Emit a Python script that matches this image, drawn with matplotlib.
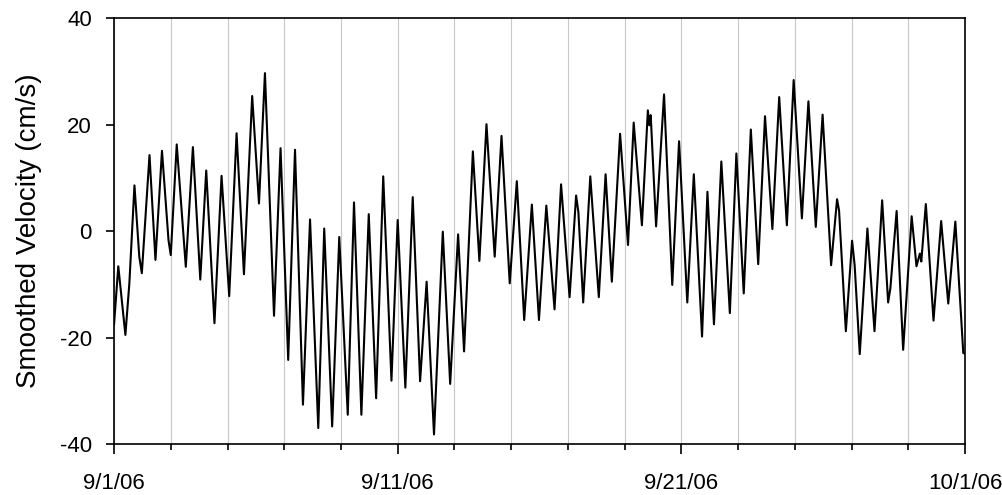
import numpy as np
import pandas as pd
import matplotlib
matplotlib.use("Agg")
import matplotlib.pyplot as plt
import matplotlib.dates as mdates
from matplotlib.ticker import FuncFormatter

# Data: day offsets from 9/1/06 and velocity (cm/s)
start_date = "2006-09-01"
days = [
    0.00, 0.15, 0.40, 0.54, 0.72, 0.89, 0.98, 1.25, 1.46, 1.69, 1.92, 2.00,
    2.21, 2.53, 2.78, 3.04, 3.25, 3.54, 3.79, 4.06, 4.32, 4.58, 4.87,
    5.11, 5.32, 5.64, 5.87, 6.14, 6.38, 6.66, 6.91, 7.20, 7.41, 7.69, 7.94,
    8.24, 8.46, 8.72, 8.98, 9.24, 9.49, 9.78, 10.00, 10.27,
    10.53, 10.79, 11.02, 11.28, 11.59, 11.85, 12.13, 12.34, 12.65, 12.88,
    13.13, 13.42, 13.66, 13.95, 14.20, 14.46, 14.73, 14.98, 15.24, 15.53,
    15.76, 16.06, 16.29, 16.37, 16.54, 16.79, 17.09, 17.33, 17.55, 17.84,
    18.12, 18.32, 18.61, 18.82, 18.87, 18.92, 19.11, 19.39, 19.68, 19.92,
    20.21, 20.44, 20.73,
    20.92, 21.15, 21.41, 21.71, 21.94, 22.20, 22.45, 22.71, 22.95, 23.21,
    23.45, 23.72, 23.96, 24.25, 24.48, 24.74, 24.98, 25.28, 25.49, 25.56,
    25.80,
    26.02, 26.11, 26.29, 26.56, 26.81, 27.08, 27.29, 27.37, 27.59, 27.82,
    28.12, 28.29, 28.41, 28.46, 28.62, 28.89, 29.16, 29.41, 29.66, 29.94,
    30.00,
]
velocity = [
    -17.5, -6.6, -19.5, -9.8, 8.6, -4.8, -7.9, 14.3, -5.4, 15.1, -1.7, -4.5,
    16.3, -6.7, 15.8, -9.1, 11.4, -17.3, 10.4, -12.2, 18.4, -8.1, 25.4,
    5.2, 29.7, -15.9, 15.6, -24.2, 15.3, -32.6, 2.2, -37.0, 0.5, -36.7, -1.1,
    -34.5, 5.4, -34.5, 3.2, -31.4, 10.3, -28.1, 2.1, -29.4,
    6.4, -28.2, -9.5, -38.2, -0.1, -28.7, -0.6, -22.6, 15.0, -5.6,
    20.1, -4.8, 17.9, -9.8, 9.4, -16.7, 5.0, -16.7, 4.8, -14.7,
    8.8, -12.4, 6.7, 3.6, -13.4, 10.3, -12.4, 10.7, -9.5, 18.3,
    -2.6, 20.4, 1.1, 22.7, 19.9, 21.8, 0.9, 25.7, -10.1, 16.9,
    -13.4, 10.7, -19.8,
    7.4, -17.5, 13.1, -15.4, 14.6, -11.7, 19.1, -6.2, 21.6, 0.4,
    25.2, 1.1, 28.4, 2.4, 24.4, 0.8, 21.9, -6.4, 6.0, 3.9,
    -18.8,
    -1.8, -6.4, -23.1, 0.5, -18.8, 5.8, -13.4, -10.7, 3.8, -22.3,
    2.8, -6.6, -4.2, -5.7, 5.1, -16.8, 1.9, -13.6, 1.8, -22.9,
    -23.0,
]
y_ticks = [-40, -20, 0, 20, 40]

times = pd.Timestamp(start_date) + pd.to_timedelta(days, unit="D")

plt.rcParams['font.family'] = ['Liberation Sans', 'DejaVu Sans']
plt.rcParams['axes.unicode_minus'] = False

fig = plt.figure(figsize=(10.03, 4.95), dpi=100)
ax = fig.add_axes([0.1137, 0.103, 0.8484, 0.860])

ax.plot(times, velocity, color="black", lw=1.5, solid_joinstyle="round", zorder=3)

ax.set_xlim(pd.Timestamp("2006-09-01"), pd.Timestamp("2006-10-01"))
ax.set_ylim(-40, 40)
ax.set_yticks(y_ticks)

ax.xaxis.set_major_locator(mdates.DayLocator(bymonthday=[1, 11, 21]))
ax.xaxis.set_minor_locator(mdates.DayLocator(bymonthday=list(range(1, 32, 2))))


def fmt_date(x, pos):
    d = mdates.num2date(x)
    return f"{d.month}/{d.day}/{d.strftime('%y')}"


ax.xaxis.set_major_formatter(FuncFormatter(fmt_date))
ax.grid(axis="x", which="both", color="#c8c8c8", lw=0.8, zorder=0)

ax.tick_params(axis="x", which="major", direction="out", length=7, width=1.2,
               labelsize=16, pad=14)
ax.tick_params(axis="x", which="minor", direction="out", length=4, width=1.2)
ax.tick_params(axis="y", direction="out", length=6, width=1.2, labelsize=16, pad=10)
for s in ax.spines.values():
    s.set_linewidth(1.2)

ax.set_ylabel("Smoothed Velocity (cm/s)", fontsize=20, labelpad=13)

fig.savefig("out.png", dpi=100)
